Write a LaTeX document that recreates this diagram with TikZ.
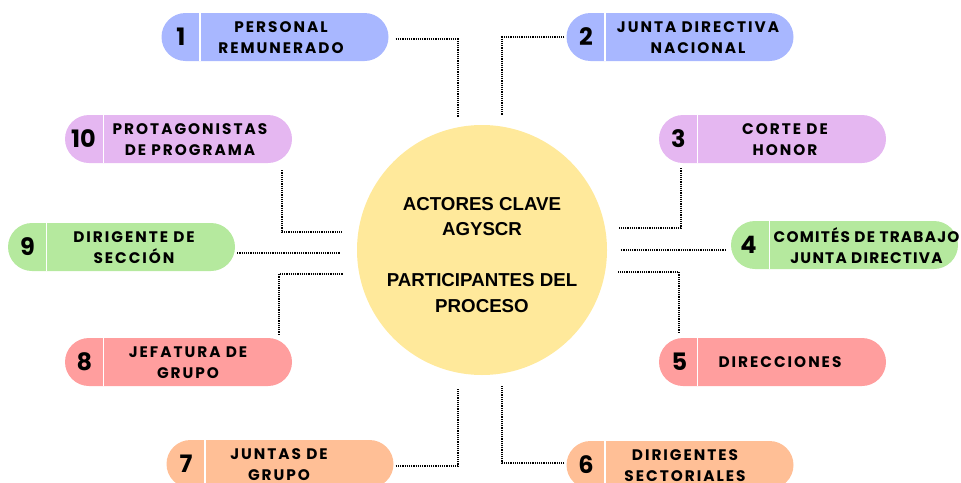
\documentclass[tikz,border=0pt]{standalone}
\usepackage{fontspec}
\setmainfont{Liberation Sans}
\newfontfamily\pillfont[LetterSpace=13]{Poppins}
\newfontfamily\numfont{Poppins}
\usetikzlibrary{shapes.misc,calc}
\definecolor{cblue}{RGB}{168,183,255}
\definecolor{cpurple}{RGB}{229,183,241}
\definecolor{cgreen}{RGB}{181,233,158}
\definecolor{cred}{RGB}{255,158,158}
\definecolor{corange}{RGB}{255,191,150}
\definecolor{cyellow}{RGB}{255,233,155}
\begin{document}
\begin{tikzpicture}[x=1pt,y=-1pt,
  pill/.style={rounded rectangle, minimum width=227pt, minimum height=48pt, inner sep=0pt, draw=none},
  divider/.style={white, line width=1.8pt},
  num/.style={font=\numfont\bfseries\fontsize{24}{24}\selectfont, inner sep=0pt},
  ptext/.style={font=\pillfont\bfseries\fontsize{15.3}{21}\selectfont, align=center, inner sep=0pt},
  tighttext/.style={font=\pillfont\bfseries\fontsize{15.3}{21}\selectfont\addfontfeature{LetterSpace=8}, align=center, inner sep=0pt},
  conn/.style={line width=1.7pt, dash pattern=on 1.2pt off 1pt, black},
  hub/.style={circle, fill=cyellow, minimum size=250pt, inner sep=0pt}]
\useasboundingbox (0,0) rectangle (961,482);
\clip (0,0) rectangle (961,482);

% central circle
\node[hub] (hub) at (482,250) {};
\node[font=\bfseries\fontsize{18.7}{25.5}\selectfont, align=center, inner sep=0pt] (hubtext) at (482,255)
  {ACTORES CLAVE\\AGYSCR\\[25.5pt]PARTICIPANTES DEL\\PROCESO};

% pills
\node[pill, fill=cblue]   (p1)  at (275,37)   {};
\node[pill, fill=cblue]   (p2)  at (680,37)   {};
\node[pill, fill=cpurple] (p10) at (178.5,139) {};
\node[pill, fill=cpurple] (p3)  at (772.5,139) {};
\node[pill, fill=cgreen]  (p9)  at (121.5,247) {};
\node[pill, fill=cgreen]  (p4)  at (844.5,245) {};
\node[pill, fill=cred]    (p8)  at (178.5,362) {};
\node[pill, fill=cred]    (p5)  at (772.5,362) {};
\node[pill, fill=corange] (p7)  at (280,464)  {};
\node[pill, fill=corange] (p6)  at (680,465)  {};

% dividers
\foreach \p in {p1,p2,p10,p3,p9,p4,p8,p5,p7,p6}
  \draw[divider] ($(\p.north)+(-75,0)$) -- ($(\p.south)+(-75,0)$);

% numbers
\node[num] (n1)  at ($(p1)+(-94,0)$)  {1};
\node[num] (n2)  at ($(p2)+(-94,0)$)  {2};
\node[num] (n10) at ($(p10)+(-95,0)$) {10};
\node[num] (n3)  at ($(p3)+(-94,0)$)  {3};
\node[num] (n9)  at ($(p9)+(-94,0)$)  {9};
\node[num] (n4)  at ($(p4)+(-96,0)$)  {4};
\node[num] (n8)  at ($(p8)+(-94,0)$)  {8};
\node[num] (n5)  at ($(p5)+(-93,0)$)  {5};
\node[num] (n7)  at ($(p7)+(-94,0)$)  {7};
\node[num] (n6)  at ($(p6)+(-94,0)$)  {6};

% texts
\node[ptext] (t1)  at ($(p1)+(6,1)$)     {PERSONAL\\REMUNERADO};
\node[ptext] (t2)  at ($(p2)+(18,1)$)    {JUNTA DIRECTIVA\\NACIONAL};
\node[ptext] (t10) at ($(p10)+(11.5,1)$) {PROTAGONISTAS\\DE PROGRAMA};
\node[ptext] (t3)  at ($(p3)+(12.5,1)$)  {CORTE DE\\HONOR};
\node[ptext] (t9)  at ($(p9)+(12.5,1)$)  {DIRIGENTE DE\\SECCIÓN};
\node[tighttext] (t4)  at ($(p4)+(22,1)$)  {COMITÉS DE TRABAJO\\JUNTA DIRECTIVA};
\node[ptext] (t8)  at ($(p8)+(9.5,1)$)   {JEFATURA DE\\GRUPO};
\node[ptext] (t5)  at ($(p5)+(7.5,0)$)   {DIRECCIONES};
\node[ptext] (t7)  at ($(p7)+(-1,1)$)    {JUNTAS DE\\GRUPO};
\node[ptext] (t6)  at ($(p6)+(5,1)$)     {DIRIGENTES\\SECTORIALES};

% connector ends near the circle
\coordinate (c1)  at (458,117);
\coordinate (c2)  at (502,115);
\coordinate (c10) at (343,232);
\coordinate (c9)  at (340,253);
\coordinate (c8)  at (343,274);
\coordinate (c7)  at (458,388);
\coordinate (c3)  at (618,228);
\coordinate (c4)  at (621,250);
\coordinate (c5)  at (617,272);
\coordinate (c6)  at (502,386);

% connectors
\draw[conn] (p1.east)  ++(7,2)      -| (c1);
\draw[conn] (p2.west)  ++(-2,0)     -| (c2);
\draw[conn] (p10.south) ++(103.5,7) |- (c10);
\draw[conn] (p9.east)  ++(2,6)      -- (c9);
\draw[conn] (p8.north) ++(100.5,-3) |- (c8);
\draw[conn] (p7.east)  ++(2,2)      -| (c7);
\draw[conn] (p3.south) ++(-91.5,5)  |- (c3);
\draw[conn] (p4.west)  ++(-5,5)     -- (c4);
\draw[conn] (p5.north) ++(-93.5,-5) |- (c5);
\draw[conn] (p6.west)  ++(-2,-2)    -| (c6);
\end{tikzpicture}
\end{document}
